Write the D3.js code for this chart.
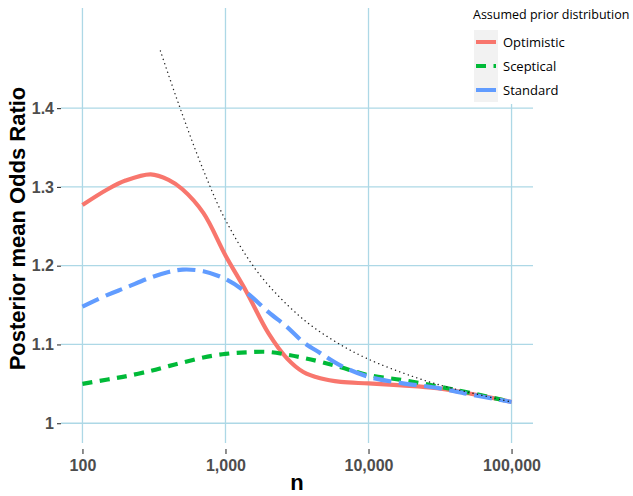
<!doctype html>
<html>
<head>
<meta charset="utf-8"/>
<style>
    html, body { margin: 0; padding: 0; background: #fff; }
    svg { display: block; }
    .tick text { font-family: "Liberation Sans", Arial, sans-serif; font-weight: bold; font-size: 16px; fill: #4d4d4d; }
    .legend text { font-family: "Open Sans", sans-serif; font-size: 12.5px; fill: #000; }
</style>
<script src="https://d3js.org/d3.v7.min.js"></script>
</head>
<body>
<svg width="633" height="496"></svg>
<script>

// n values shared by the three prior curves
var nValues = [100, 150, 200, 300, 400, 500, 700, 1000, 1400, 2000, 2700, 3500, 4600, 6400, 10000, 17000, 30000, 50000, 100000];

var optimistic = [1.277, 1.297, 1.308, 1.316, 1.309, 1.297, 1.267, 1.213, 1.167, 1.114, 1.082, 1.065, 1.057, 1.0524, 1.0505, 1.048, 1.0445, 1.038, 1.027];
var sceptical  = [1.050, 1.0555, 1.0595, 1.0665, 1.0725, 1.077, 1.0835, 1.088, 1.090, 1.0905, 1.087, 1.083, 1.078, 1.071, 1.061, 1.055, 1.047, 1.039, 1.027];
var standard   = [1.148, 1.163, 1.172, 1.185, 1.192, 1.195, 1.193, 1.183, 1.166, 1.141, 1.122, 1.103, 1.089, 1.073, 1.059, 1.051, 1.045, 1.037, 1.027];

// dotted reference curve
var refN  = [351, 471, 705, 1000, 1710, 3342, 5690, 9790, 20650, 35500, 100000];
var refOR = [1.4725, 1.405, 1.320, 1.258, 1.190, 1.135, 1.105, 1.082, 1.059, 1.046, 1.027];

var seriesNames = ["Optimistic", "Sceptical", "Standard"];
var seriesColors = ["#F8766D", "#00BA38", "#619CFF"];
var seriesDash = [null, "10,7.5", "18,7.5"];

var xTicks = [100, 1000, 10000, 100000];
var yTicks = [1, 1.1, 1.2, 1.3, 1.4];

var svg = d3.select("svg");

var panel = {left: 61, right: 533, top: 8, bottom: 443};

// ggplot-style 5% expansion of the data range
var xLog = [2, 5], xPad = (xLog[1] - xLog[0]) * 0.05;
var yRange = [1.0, 1.502], yPad = (yRange[1] - yRange[0]) * 0.05;

var x = d3.scaleLog()
    .domain([Math.pow(10, xLog[0] - xPad), Math.pow(10, xLog[1] + xPad)])
    .range([panel.left, panel.right]);
var y = d3.scaleLinear()
    .domain([yRange[0] - yPad, yRange[1] + yPad])
    .range([panel.bottom, panel.top]);

// grid lines
var grid = svg.append("g").attr("stroke", "#add8e6").attr("stroke-width", 1.3);
grid.selectAll(".gx").data(xTicks).enter().append("line")
    .attr("x1", function(d) { return x(d); }).attr("x2", function(d) { return x(d); })
    .attr("y1", panel.top).attr("y2", panel.bottom);
grid.selectAll(".gy").data(yTicks).enter().append("line")
    .attr("y1", function(d) { return y(d); }).attr("y2", function(d) { return y(d); })
    .attr("x1", panel.left).attr("x2", panel.right);

// axes
svg.append("g")
    .attr("transform", "translate(0," + (panel.bottom + 6) + ")")
    .call(d3.axisBottom(x).tickValues(xTicks).tickSize(5).tickPadding(5.5).tickFormat(d3.format(",")));
svg.append("g")
    .attr("transform", "translate(" + panel.left + ",0)")
    .call(d3.axisLeft(y).tickValues(yTicks).tickSize(4).tickPadding(3).tickFormat(function(d) { return String(+d.toFixed(1)); }));
svg.selectAll(".domain").remove();
svg.selectAll(".tick line").attr("stroke", "#333").attr("stroke-width", 1.1);

// curves
var line = d3.line()
    .x(function(d) { return x(d[0]); })
    .y(function(d) { return y(d[1]); })
    .curve(d3.curveCatmullRom.alpha(0.5));

[optimistic, sceptical, standard].forEach(function(vals, i) {
    svg.append("path")
        .datum(nValues.map(function(n, j) { return [n, vals[j]]; }))
        .attr("d", line)
        .attr("fill", "none")
        .attr("stroke", seriesColors[i])
        .attr("stroke-width", 4.2)
        .attr("stroke-dasharray", seriesDash[i]);
});

svg.append("path")
    .datum(refN.map(function(n, j) { return [n, refOR[j]]; }))
    .attr("d", line)
    .attr("fill", "none")
    .attr("stroke", "#222")
    .attr("stroke-width", 1.4)
    .attr("stroke-linecap", "round")
    .attr("stroke-dasharray", "0.1,4.4");

// axis titles
svg.append("text")
    .attr("x", (panel.left + panel.right) / 2).attr("y", 490)
    .attr("text-anchor", "middle")
    .style("font", "bold 22px 'Liberation Sans', Arial, sans-serif")
    .text("n");
svg.append("text")
    .attr("transform", "translate(25," + ((panel.top + panel.bottom) / 2 + 3) + ") rotate(-90)")
    .attr("text-anchor", "middle")
    .style("font", "bold 22px 'Liberation Sans', Arial, sans-serif")
    .text("Posterior mean Odds Ratio");

// legend
var legend = svg.append("g").attr("class", "legend");
legend.append("rect").attr("x", 466).attr("y", 0).attr("width", 167).attr("height", 104).attr("fill", "#fff");
legend.append("text").attr("x", 473).attr("y", 19).text("Assumed prior distribution");
legend.append("rect").attr("x", 474).attr("y", 30).attr("width", 24).attr("height", 72).attr("fill", "#f2f2f2");
seriesNames.forEach(function(name, i) {
    var cy = 42 + i * 24;
    legend.append("line")
        .attr("x1", 476).attr("x2", 496).attr("y1", cy).attr("y2", cy)
        .attr("stroke", seriesColors[i]).attr("stroke-width", 4)
        .attr("stroke-dasharray", i === 1 ? seriesDash[i] : null);
    legend.append("text").attr("x", 503).attr("y", cy + 4.5).style("font-size", "13px").text(name);
});

</script>
</body>
</html>
